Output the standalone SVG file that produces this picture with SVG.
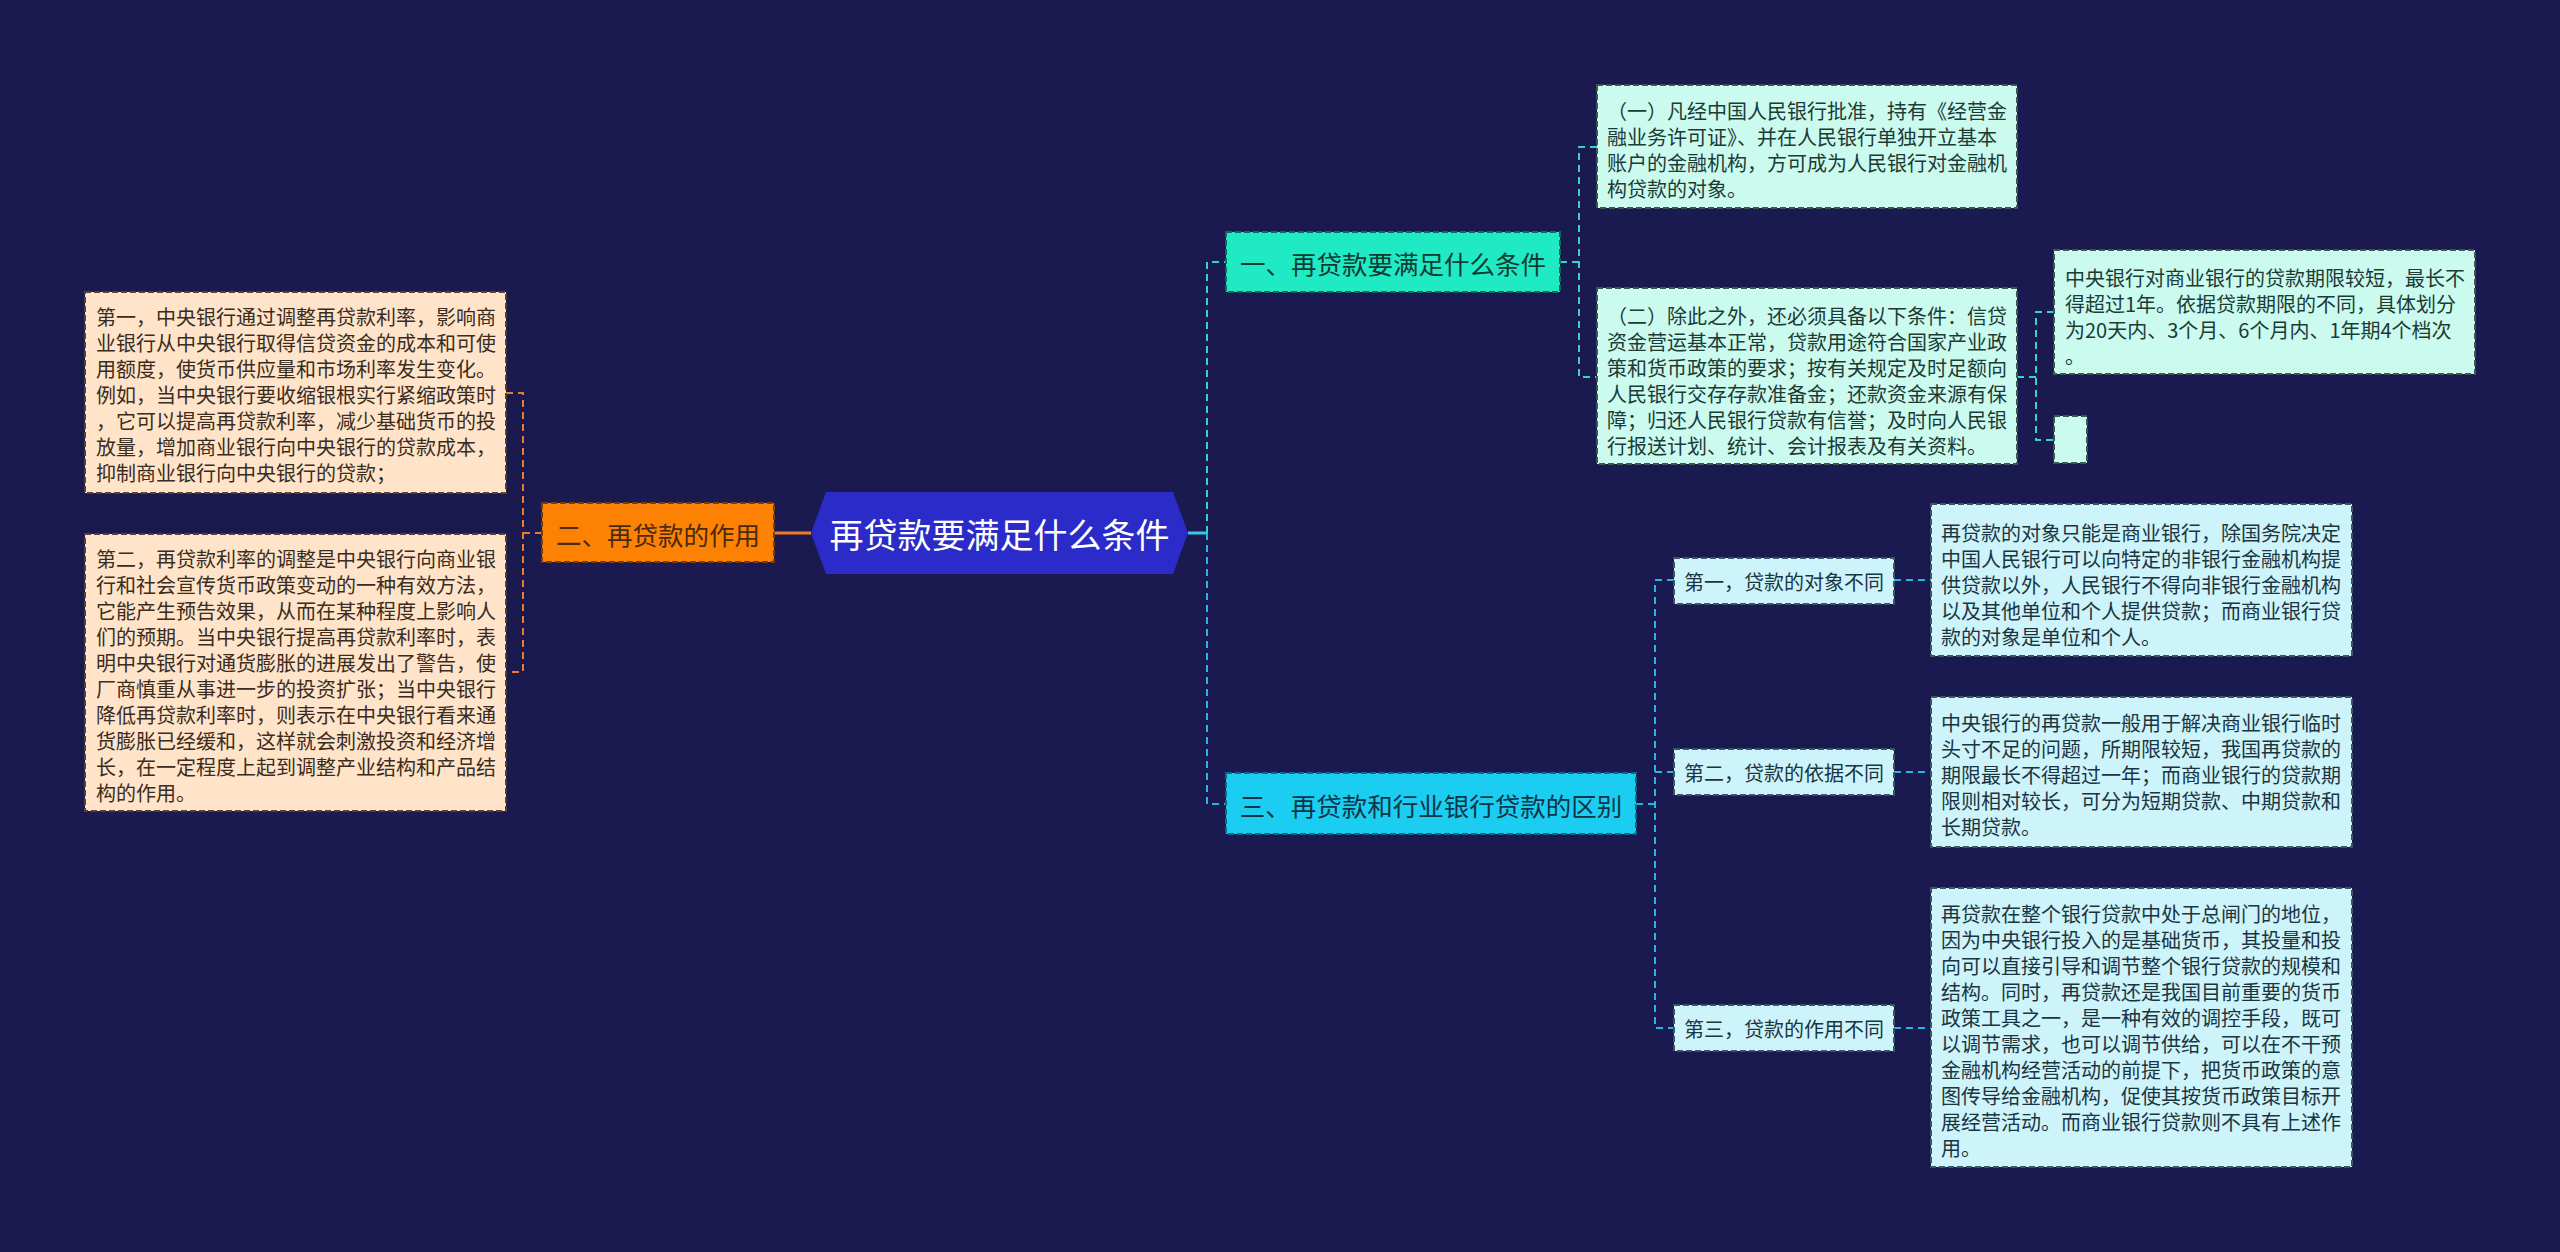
<svg xmlns="http://www.w3.org/2000/svg" width="2560" height="1252" viewBox="0 0 2560 1252">
<style>
text{font-family:"Noto Sans CJK SC","Noto Sans",sans-serif;dominant-baseline:central}
.box{stroke-width:2;stroke-dasharray:6 3}
.t20{font-size:20px}
.t26{font-size:25.5px}
.peach{fill:#ffe4c9;stroke:#5a4030}
.peach-t{fill:#3a2c20}
.orange{fill:#fd8204;stroke:#7a3c08}
.orange-t{fill:#4b2a0e}
.mint{fill:#20eac3;stroke:#0f6a5a}
.mint-t{fill:#103a34}
.mintl{fill:#cbfaee;stroke:#3c5650}
.mintl-t{fill:#1c3b36}
.cyan{fill:#1ccdf2;stroke:#0c6a86}
.cyan-t{fill:#0d3545}
.cyanl{fill:#cdf3fb;stroke:#3a5660}
.cyanl-t{fill:#1b3540}
.c{fill:none;stroke-width:2;stroke-dasharray:7 5}
.co{stroke:#e57c32}
.ct{stroke:#33d6c6}
.cc{stroke:#22b8e6}
</style>
<rect width="2560" height="1252" fill="#1b1a50"/>

<g id="connectors">
<path d="M774 533 H811" stroke="#f07d2a" stroke-width="3" fill="none"/>
<path class="c co" d="M542 533 H523"/>
<path class="c co" d="M506 393 H523 V672 H506"/>
<path d="M1188 533 H1207" stroke="#35c8e8" stroke-width="3" fill="none"/>
<path class="c ct" d="M1207 533 V262 H1226"/>
<path class="c cc" d="M1207 533 V804 H1226"/>
<path class="c ct" d="M1560 262 H1579"/>
<path class="c ct" d="M1597 147 H1579 V377 H1597"/>
<path class="c ct" d="M2017 377 H2036"/>
<path class="c ct" d="M2054 312 H2036 V440 H2054"/>
<path class="c cc" d="M1636 804 H1655"/>
<path class="c cc" d="M1674 580 H1655 V1028 H1674"/>
<path class="c cc" d="M1655 772 H1674"/>
<path class="c cc" d="M1894 580 H1931"/>
<path class="c cc" d="M1894 772 H1931"/>
<path class="c cc" d="M1894 1028 H1931"/>
</g>

<g id="root">
<polygon points="811,533 826,492 1173,492 1188,533 1173,574 826,574" fill="#2a2bc8"/>
<text x="999.5" y="533" font-size="34" fill="#ffffff" text-anchor="middle">再贷款要满足什么条件</text>
</g>

<g id="branch2">
<rect class="box orange" x="542" y="503" width="232" height="59"/>
<text class="t26 orange-t" x="658" y="533" text-anchor="middle">二、再贷款的作用</text>
</g>

<g id="leaf2a">
<rect class="box peach" x="85" y="292" width="421" height="201"/>
<text class="t20 peach-t">
<tspan x="96" y="316">第一，中央银行通过调整再贷款利率，影响商</tspan>
<tspan x="96" y="342">业银行从中央银行取得信贷资金的成本和可使</tspan>
<tspan x="96" y="368">用额度，使货币供应量和市场利率发生变化。</tspan>
<tspan x="96" y="394">例如，当中央银行要收缩银根实行紧缩政策时</tspan>
<tspan x="96" y="420">，它可以提高再贷款利率，减少基础货币的投</tspan>
<tspan x="96" y="446">放量，增加商业银行向中央银行的贷款成本，</tspan>
<tspan x="96" y="472">抑制商业银行向中央银行的贷款；</tspan>
</text>
</g>

<g id="leaf2b">
<rect class="box peach" x="85" y="534" width="421" height="277"/>
<text class="t20 peach-t">
<tspan x="96" y="558">第二，再贷款利率的调整是中央银行向商业银</tspan>
<tspan x="96" y="584">行和社会宣传货币政策变动的一种有效方法，</tspan>
<tspan x="96" y="610">它能产生预告效果，从而在某种程度上影响人</tspan>
<tspan x="96" y="636">们的预期。当中央银行提高再贷款利率时，表</tspan>
<tspan x="96" y="662">明中央银行对通货膨胀的进展发出了警告，使</tspan>
<tspan x="96" y="688">厂商慎重从事进一步的投资扩张；当中央银行</tspan>
<tspan x="96" y="714">降低再贷款利率时，则表示在中央银行看来通</tspan>
<tspan x="96" y="740">货膨胀已经缓和，这样就会刺激投资和经济增</tspan>
<tspan x="96" y="766">长，在一定程度上起到调整产业结构和产品结</tspan>
<tspan x="96" y="792">构的作用。</tspan>
</text>
</g>

<g id="branch1">
<rect class="box mint" x="1226" y="232" width="334" height="60"/>
<text class="t26 mint-t" x="1393" y="262" text-anchor="middle">一、再贷款要满足什么条件</text>
</g>

<g id="leaf1a">
<rect class="box mintl" x="1597" y="85" width="420" height="123"/>
<text class="t20 mintl-t">
<tspan x="1607" y="110">（一）凡经中国人民银行批准，持有《经营金</tspan>
<tspan x="1607" y="136">融业务许可证》、并在人民银行单独开立基本</tspan>
<tspan x="1607" y="162">账户的金融机构，方可成为人民银行对金融机</tspan>
<tspan x="1607" y="188">构贷款的对象。</tspan>
</text>
</g>

<g id="leaf1b">
<rect class="box mintl" x="1597" y="288" width="420" height="176"/>
<text class="t20 mintl-t">
<tspan x="1607" y="315">（二）除此之外，还必须具备以下条件：信贷</tspan>
<tspan x="1607" y="341">资金营运基本正常，贷款用途符合国家产业政</tspan>
<tspan x="1607" y="367">策和货币政策的要求；按有关规定及时足额向</tspan>
<tspan x="1607" y="393">人民银行交存存款准备金；还款资金来源有保</tspan>
<tspan x="1607" y="419">障；归还人民银行贷款有信誉；及时向人民银</tspan>
<tspan x="1607" y="445">行报送计划、统计、会计报表及有关资料。</tspan>
</text>
</g>

<g id="leaf1b1">
<rect class="box mintl" x="2054" y="250" width="421" height="124"/>
<text class="t20 mintl-t">
<tspan x="2065" y="277">中央银行对商业银行的贷款期限较短，最长不</tspan>
<tspan x="2065" y="303">得超过1年。依据贷款期限的不同，具体划分</tspan>
<tspan x="2065" y="329">为20天内、3个月、6个月内、1年期4个档次</tspan>
<tspan x="2065" y="355">。</tspan>
</text>
</g>

<g id="leaf1b2">
<rect class="box mintl" x="2054" y="416" width="33" height="47"/>
</g>

<g id="branch3">
<rect class="box cyan" x="1226" y="773" width="410" height="61"/>
<text class="t26 cyan-t" x="1431" y="804" text-anchor="middle">三、再贷款和行业银行贷款的区别</text>
</g>

<g id="sub3a">
<rect class="box cyanl" x="1674" y="558" width="220" height="46"/>
<text class="t20 cyanl-t" x="1784" y="581" text-anchor="middle">第一，贷款的对象不同</text>
</g>
<g id="sub3b">
<rect class="box cyanl" x="1674" y="749" width="220" height="46"/>
<text class="t20 cyanl-t" x="1784" y="772" text-anchor="middle">第二，贷款的依据不同</text>
</g>
<g id="sub3c">
<rect class="box cyanl" x="1674" y="1005" width="220" height="46"/>
<text class="t20 cyanl-t" x="1784" y="1028" text-anchor="middle">第三，贷款的作用不同</text>
</g>

<g id="leaf3a">
<rect class="box cyanl" x="1931" y="504" width="421" height="152"/>
<text class="t20 cyanl-t">
<tspan x="1941" y="532">再贷款的对象只能是商业银行，除国务院决定</tspan>
<tspan x="1941" y="558">中国人民银行可以向特定的非银行金融机构提</tspan>
<tspan x="1941" y="584">供贷款以外，人民银行不得向非银行金融机构</tspan>
<tspan x="1941" y="610">以及其他单位和个人提供贷款；而商业银行贷</tspan>
<tspan x="1941" y="636">款的对象是单位和个人。</tspan>
</text>
</g>

<g id="leaf3b">
<rect class="box cyanl" x="1931" y="697" width="421" height="150"/>
<text class="t20 cyanl-t">
<tspan x="1941" y="722">中央银行的再贷款一般用于解决商业银行临时</tspan>
<tspan x="1941" y="748">头寸不足的问题，所期限较短，我国再贷款的</tspan>
<tspan x="1941" y="774">期限最长不得超过一年；而商业银行的贷款期</tspan>
<tspan x="1941" y="800">限则相对较长，可分为短期贷款、中期贷款和</tspan>
<tspan x="1941" y="826">长期贷款。</tspan>
</text>
</g>

<g id="leaf3c">
<rect class="box cyanl" x="1931" y="888" width="421" height="279"/>
<text class="t20 cyanl-t">
<tspan x="1941" y="913">再贷款在整个银行贷款中处于总闸门的地位，</tspan>
<tspan x="1941" y="939">因为中央银行投入的是基础货币，其投量和投</tspan>
<tspan x="1941" y="965">向可以直接引导和调节整个银行贷款的规模和</tspan>
<tspan x="1941" y="991">结构。同时，再贷款还是我国目前重要的货币</tspan>
<tspan x="1941" y="1017">政策工具之一，是一种有效的调控手段，既可</tspan>
<tspan x="1941" y="1043">以调节需求，也可以调节供给，可以在不干预</tspan>
<tspan x="1941" y="1069">金融机构经营活动的前提下，把货币政策的意</tspan>
<tspan x="1941" y="1095">图传导给金融机构，促使其按货币政策目标开</tspan>
<tspan x="1941" y="1121">展经营活动。而商业银行贷款则不具有上述作</tspan>
<tspan x="1941" y="1147">用。</tspan>
</text>
</g>
</svg>
